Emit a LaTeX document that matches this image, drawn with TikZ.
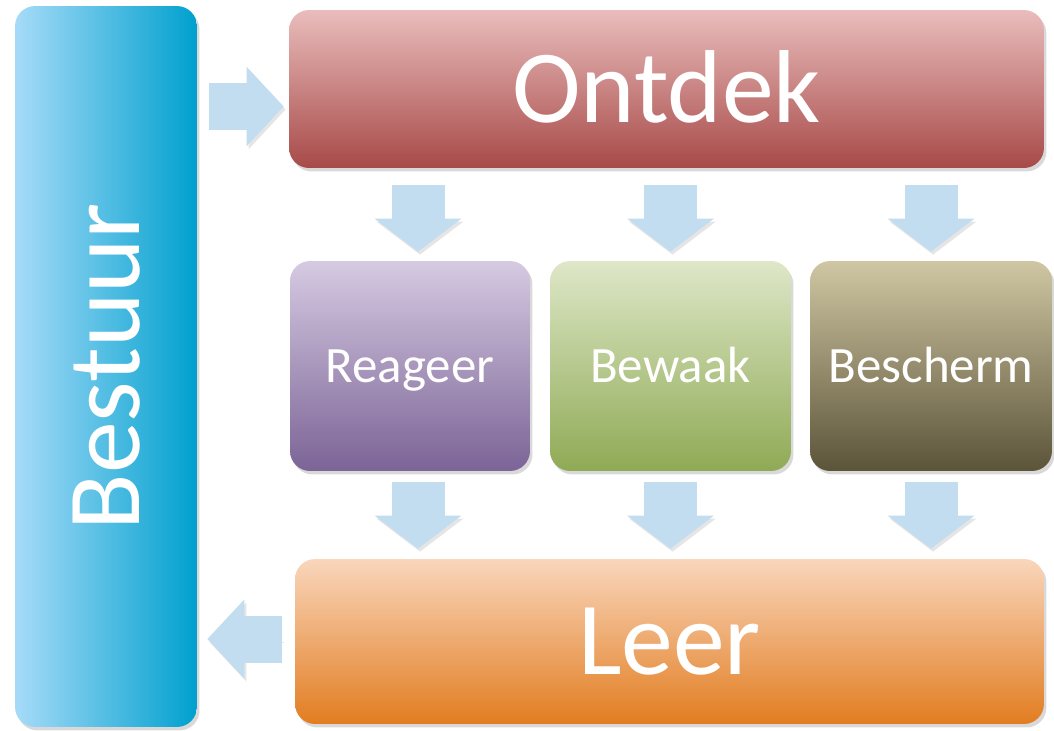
\documentclass[tikz,border=0pt]{standalone}
\usepackage{fontspec}
\setmainfont{Carlito}
\usetikzlibrary{arrows.meta,shadows}

\definecolor{flowblue}{HTML}{C2DCF0}
\definecolor{bestuurA}{HTML}{A6DBF8}
\definecolor{bestuurB}{HTML}{00A0CE}
\definecolor{ontdekA}{HTML}{E9BDBC}
\definecolor{ontdekB}{HTML}{A74A48}
\definecolor{reageerA}{HTML}{D6CAE2}
\definecolor{reageerB}{HTML}{7B6496}
\definecolor{bewaakA}{HTML}{DEE7C8}
\definecolor{bewaakB}{HTML}{8FAA55}
\definecolor{beschermA}{HTML}{CFC6A3}
\definecolor{beschermB}{HTML}{5C5439}
\definecolor{leerA}{HTML}{F9D6BC}
\definecolor{leerB}{HTML}{E27D20}
\tikzset{
  box/.style={rounded corners=0.4cm, text=white,
    drop shadow={shadow xshift=0.05cm,shadow yshift=-0.07cm,opacity=0.3}},
  bigtext/.style={font=\fontsize{59}{60}\selectfont, text height=38pt, text depth=0pt},
  smalltext/.style={font=\fontsize{29}{30}\selectfont, text height=18.7pt, text depth=0pt},
  flowside/.style={draw=flowblue, line width=0.94cm,
    -{Triangle[length=0.74cm,width=1.54cm]},
    preaction={draw=black!40, opacity=0.25, transform canvas={shift={(0.04cm,-0.06cm)}}}},
  flowdown/.style={draw=flowblue, line width=1.06cm,
    -{Triangle[length=0.66cm,width=1.7cm]},
    preaction={draw=black!40, opacity=0.25, transform canvas={shift={(0.04cm,-0.06cm)}}}}
}

\begin{document}
\begin{tikzpicture}[x=0.02cm,y=-0.02cm]
      \useasboundingbox (0,0) rectangle (1054,730);
      %% Boxes
      \node[box,left color=bestuurA,right color=bestuurB,minimum width=3.64cm,minimum height=14.42cm] (bestuur) at (106,366.5) {};
      \node[bigtext,rotate=90,text=white] (bestuurtext) at (bestuur) {Bestuur};
      \node[box,bigtext,top color=ontdekA,bottom color=ontdekB,minimum width=15.1cm,minimum height=3.16cm] (ontdek) at (666.5,89) {Ontdek};
      \node[box,smalltext,top color=reageerA,bottom color=reageerB,minimum width=4.8cm,minimum height=4.2cm] (reageer) at (410,366) {Reageer};
      \node[box,smalltext,top color=bewaakA,bottom color=bewaakB,minimum width=4.82cm,minimum height=4.2cm] (bewaak) at (670.5,366) {Bewaak};
      \node[box,smalltext,top color=beschermA,bottom color=beschermB,minimum width=4.84cm,minimum height=4.2cm] (bescherm) at (931,366) {Bescherm};
      \node[box,bigtext,top color=leerA,bottom color=leerB,minimum width=14.98cm,minimum height=3.3cm] (leer) at (669.5,641.5) {Leer};
      %% Side arrows
      \draw[flowside,shorten <=0.24cm,shorten >=0.1cm] ([yshift=-0.35cm]ontdek.west -| bestuur.east) -- ([yshift=-0.35cm]ontdek.west);
      \draw[flowside,shorten <=0.26cm,shorten >=0.2cm] ([yshift=0.05cm]leer.west) -- ([yshift=0.05cm]leer.west -| bestuur.east);
      %% Down arrows
      \draw[flowdown,shorten <=0.34cm,shorten >=0.18cm] ([xshift=0.16cm]reageer.north |- ontdek.south) -- ([xshift=0.16cm]reageer.north);
      \draw[flowdown,shorten <=0.34cm,shorten >=0.18cm] (bewaak.north |- ontdek.south) -- (bewaak.north);
      \draw[flowdown,shorten <=0.34cm,shorten >=0.18cm] (bescherm.north |- ontdek.south) -- (bescherm.north);
      \draw[flowdown,shorten <=0.22cm,shorten >=0.2cm] ([xshift=0.16cm]reageer.south) -- ([xshift=0.16cm]reageer.south |- leer.north);
      \draw[flowdown,shorten <=0.22cm,shorten >=0.2cm] (bewaak.south) -- (bewaak.south |- leer.north);
      \draw[flowdown,shorten <=0.22cm,shorten >=0.2cm] (bescherm.south) -- (bescherm.south |- leer.north);
\end{tikzpicture}
\end{document}
